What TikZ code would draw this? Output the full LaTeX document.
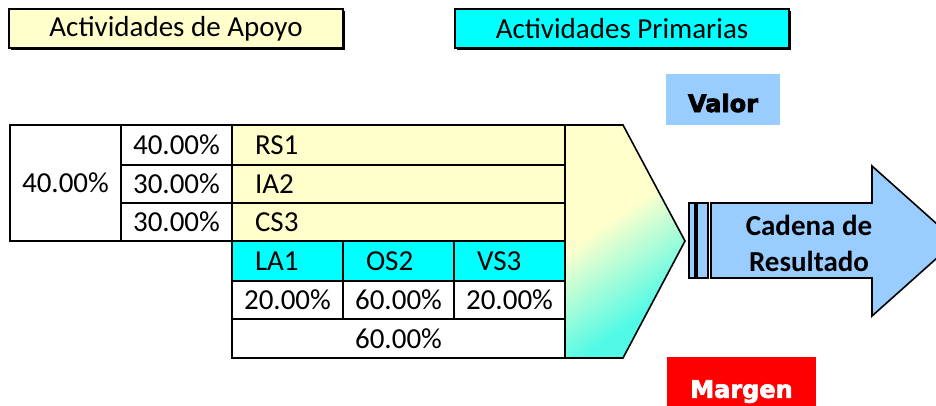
\documentclass[tikz,border=0pt]{standalone}
\usepackage{fontspec}
\setmainfont{Carlito}
\newfontfamily\heavyfont[BoldFont={DejaVu Sans Bold}, BoldFeatures={FakeBold=3}]{DejaVu Sans}
\usetikzlibrary{shadows}
\definecolor{Cream}{RGB}{255,255,204}
\definecolor{Aqua}{RGB}{0,255,255}
\definecolor{SkyBlue}{RGB}{153,204,255}
\definecolor{Alarm}{RGB}{255,0,0}
\definecolor{Mint}{RGB}{80,250,230}
\pgfdeclareverticalshading{chevronfade}{100bp}{color(0bp)=(Mint); color(31bp)=(Mint); color(57bp)=(Cream); color(100bp)=(Cream)}

\begin{document}
\begin{tikzpicture}[
    x=1pt,
    y=-1pt,
    every node/.style={inner sep=0pt},
    legendbox/.style={
      draw,
      line width=1.2pt,
      minimum width=334pt,
      minimum height=39pt,
      font=\fontsize{29}{33}\selectfont,
      drop shadow={shadow xshift=1.5pt, shadow yshift=-1.5pt, opacity=1, fill=black}
    },
    cell/.style={
      draw,
      line width=1.6pt,
      minimum width=111pt,
      font=\fontsize{29}{33}\selectfont
    },
    supportcell/.style={cell, fill=Cream, text width=287pt, inner xsep=23pt, align=left},
    primarycell/.style={cell, fill=Aqua, text width=65pt, inner xsep=23pt, align=left},
    tag/.style={
      minimum width=114pt,
      minimum height=51pt,
      text height=26pt,
      text depth=0pt,
      font=\heavyfont\bfseries\fontsize{24}{28}\selectfont
    }
  ]
    \clip (0,0) rectangle (936,405);

    % Legend
    \node[legendbox, fill=Cream] (apoyo) at (176,28.5) {Actividades de Apoyo};
    \node[legendbox, fill=Aqua] (primarias) at (622,28.5) {Actividades Primarias};

    % Support activities
    \node[cell, minimum height=116pt] (soporte) at (65.5,183) {40.00\%};
    \node[cell, minimum height=40pt] (pRS) at (176.5,145) {40.00\%};
    \node[cell, minimum height=38pt] (pIA) at (176.5,184) {30.00\%};
    \node[cell, minimum height=38pt] (pCS) at (176.5,222) {30.00\%};
    \node[supportcell, minimum height=40pt] (rs) at (398.5,145) {RS1};
    \node[supportcell, minimum height=38pt] (ia) at (398.5,184) {IA2};
    \node[supportcell, minimum height=38pt] (cs) at (398.5,222) {CS3};

    % Primary activities
    \node[primarycell, minimum height=40pt] (la) at (287.5,261) {LA1};
    \node[primarycell, minimum height=40pt] (os) at (398.5,261) {OS2};
    \node[primarycell, minimum height=40pt] (vs) at (509.5,261) {VS3};
    \node[cell, minimum height=38pt] (pLA) at (287.5,300) {20.00\%};
    \node[cell, minimum height=38pt] (pOS) at (398.5,300) {60.00\%};
    \node[cell, minimum height=38pt] (pVS) at (509.5,300) {20.00\%};
    \node[cell, minimum width=333pt, minimum height=39pt] (primario) at (398.5,338.5) {60.00\%};

    % Chevron
    \shade[draw, line width=1.6pt, shading=chevronfade, shading angle=35]
      (565,125) -- (623,125) -- (685,241) -- (623,358) -- (565,358) -- cycle;

    % Result arrow
    \draw[fill=SkyBlue, line width=1.4pt] (689,203) rectangle (695,278);
    \draw[fill=SkyBlue, line width=1.4pt] (697,203) rectangle (708,278);
    \draw[fill=SkyBlue, line width=1.6pt]
      (711,203) -- (872,203) -- (872,166) -- (956,241) -- (872,316) -- (872,278) -- (711,278) -- cycle;
    \node[font=\bfseries\fontsize{29}{36}\selectfont, align=center] (cadena) at (809,243) {Cadena de\\Resultado};

    % Tags
    \node[tag, fill=SkyBlue] (valor) at (723,99) {Valor};
    \node[tag, fill=Alarm, text=white, minimum width=149pt, minimum height=64pt, text height=17.5pt] (margen) at (741.5,389) {Margen};
  \end{tikzpicture}
\end{document}
